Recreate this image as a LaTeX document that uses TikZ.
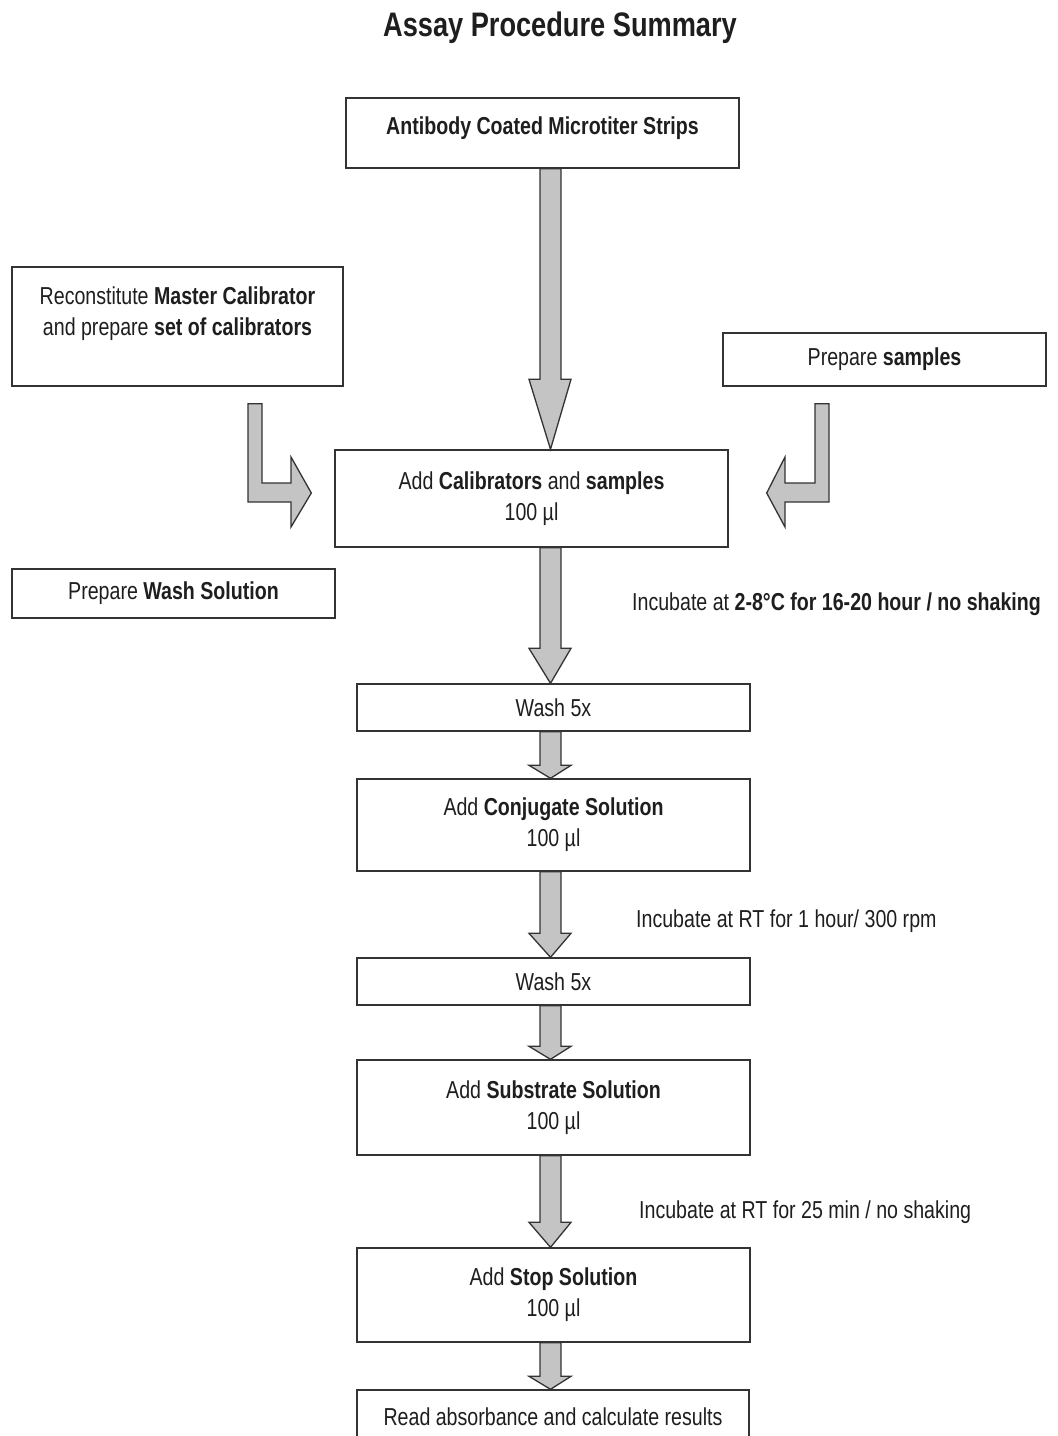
\documentclass[tikz,border=0pt]{standalone}
\usepackage{fontspec}
\setmainfont{Liberation Sans}[FakeStretch=0.8]
\usetikzlibrary{calc}
\definecolor{txt}{HTML}{1E1E1E}
\definecolor{edge}{HTML}{333333}
\definecolor{arrfill}{HTML}{C4C4C4}
\tikzset{
  box/.style={draw=edge, line width=1.4pt, fill=white, inner sep=0pt, align=center, text=txt,
    font=\fontsize{24.5}{31}\selectfont},
  lbl/.style={inner sep=0pt, text=txt, font=\fontsize{24.5}{31}\selectfont},
  fatarr/.style={draw=edge, line width=1.3pt, fill=arrfill, line join=miter},
}
\newcommand\fatdown[3]{%
  \draw[fatarr] let \p1=(#1.south), \p2=(#2.north) in
   (540pt,\y1) -- (561pt,\y1) -- (561pt,\y2+#3pt) -- (571pt,\y2+#3pt) -- (550.5pt,\y2)
   -- (529pt,\y2+#3pt) -- (540pt,\y2+#3pt) -- cycle;}
\begin{document}
\begin{tikzpicture}[x=1pt,y=-1pt]
\useasboundingbox[fill=white] (0,0) rectangle (1058,1436);
\node[lbl, font=\bfseries\fontsize{34}{38}\selectfont] (title) at (560,28) {Assay Procedure Summary};

\node[box, minimum width=393pt, minimum height=70pt] (strips) at (542.5,133) {\textbf{Antibody Coated Microtiter Strips}\\[-17pt]\mbox{}};
\node[box, minimum width=331pt, minimum height=119pt] (recon) at (177.5,326.5)
  {Reconstitute \textbf{Master Calibrator}\\and prepare \textbf{set of calibrators}\\\mbox{}};
\node[box, minimum width=323pt, minimum height=53pt] (samples) at (884.5,359.5) {Prepare \textbf{samples}};
\node[box, minimum width=393pt, minimum height=97pt] (addcal) at (531.5,498.5) {Add \textbf{Calibrators} and \textbf{samples}\\100 µl};
\node[box, minimum width=323pt, minimum height=49pt] (washsol) at (173.5,593.5) {Prepare \textbf{Wash Solution}};
\node[box, minimum width=393pt, minimum height=47pt] (wash1) at (553.5,707.5) {Wash 5x};
\node[box, minimum width=393pt, minimum height=92pt] (conj) at (553.5,825) {Add \textbf{Conjugate Solution}\\100 µl};
\node[box, minimum width=393pt, minimum height=47pt] (wash2) at (553.5,981.5) {Wash 5x};
\node[box, minimum width=393pt, minimum height=95pt] (subst) at (553.5,1107.5) {Add \textbf{Substrate Solution}\\100 µl};
\node[box, minimum width=393pt, minimum height=94pt] (stop) at (553.5,1295) {Add \textbf{Stop Solution}\\100 µl};
\node[box, minimum width=392pt, minimum height=54pt] (read) at (553,1417) {Read absorbance and calculate results};

\node[lbl, anchor=west] (inc1) at (632,604) {Incubate at \textbf{2-8°C for 16-20 hour / no shaking}};
\node[lbl, anchor=west] (inc2) at (636,921) {Incubate at RT for 1 hour/ 300 rpm};
\node[lbl, anchor=west] (inc3) at (639,1212) {Incubate at RT for 25 min / no shaking};

\fatdown{strips}{addcal}{70}
\fatdown{addcal}{wash1}{35}
\fatdown{wash1}{conj}{13}
\fatdown{conj}{wash2}{24}
\fatdown{wash2}{subst}{13}
\fatdown{subst}{stop}{25}
\fatdown{stop}{read}{13}

\draw[fatarr] let \p1=(recon.south), \p2=(addcal.west) in
  (248pt,\y1-17pt) -- (262pt,\y1-17pt) -- (262pt,-483pt) -- (291pt,-483pt) -- (291pt,-457pt)
  -- (\x2-23pt,-493pt) -- (291pt,-527pt) -- (291pt,-502pt) -- (248pt,-502pt) -- cycle;
\draw[fatarr] let \p1=(samples.south), \p2=(addcal.east) in
  (829pt,\y1-17pt) -- (815pt,\y1-17pt) -- (815pt,-483pt) -- (785pt,-483pt) -- (785pt,-457pt)
  -- (\x2+38pt,-493pt) -- (785pt,-527pt) -- (785pt,-502pt) -- (829pt,-502pt) -- cycle;
\end{tikzpicture}
\end{document}
